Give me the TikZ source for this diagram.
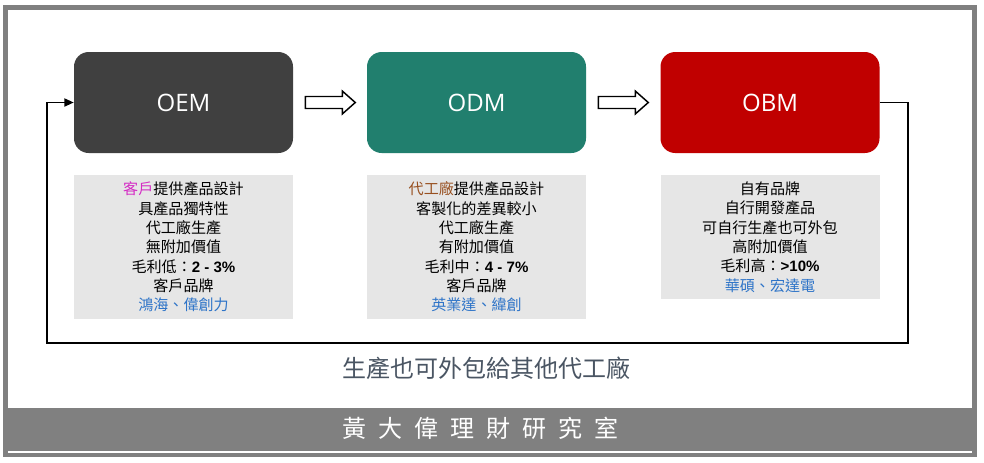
\documentclass[tikz,border=0pt]{standalone}
\usepackage{fontspec}
\setmainfont{Noto Sans CJK TC}
\newfontfamily\lat{Open Sans}
\newfontfamily\num{Liberation Sans}
\usetikzlibrary{calc,arrows.meta}
\definecolor{framegray}{HTML}{808080}
\definecolor{oemc}{HTML}{404040}
\definecolor{odmc}{HTML}{217F6E}
\definecolor{obmc}{HTML}{C00000}
\definecolor{boxgray}{HTML}{E6E6E6}
\definecolor{mag}{HTML}{D42BC4}
\definecolor{brn}{HTML}{985020}
\definecolor{blu}{HTML}{2E74C8}
\definecolor{capc}{HTML}{4A5563}
\tikzset{
  hbox/.style={rounded corners=11pt, minimum width=164.25pt, minimum height=75.75pt, text=white, font=\lat\fontsize{18}{22}\selectfont, inner sep=0pt},
  tbox/.style={fill=boxgray, minimum width=164.25pt, align=center, font=\fontsize{11.3}{14.5}\selectfont, inner sep=0pt},
  loopline/.style={line width=1.3pt, -{Triangle[length=7pt,width=6pt]}},
  blockarrow/.style={draw=black, fill=white, line width=1.1pt, line join=miter},
}
\begin{document}
\begin{tikzpicture}[x=0.75pt,y=-0.75pt]
\useasboundingbox (0,0) rectangle (984,462);
\fill[framegray] (3,5) rectangle (977,457);
\fill[white] (8,10) rectangle (972,408);
\draw[white, line width=0.8pt] (8,452) -- (972,452);

\node[hbox, fill=oemc] (oem) at (183.5,102.5) {OEM};
\node[hbox, fill=odmc] (odm) at (476.5,102.5) {ODM};
\node[hbox, fill=obmc] (obm) at (770,102.5) {OBM};

\node[tbox, minimum height=108pt] (t1) at (183.5,247) {{\color{mag}客戶}提供產品設計\\具產品獨特性\\代工廠生產\\無附加價值\\毛利低：{\num\bfseries 2 - 3\%}\\客戶品牌\\{\color{blu}鴻海、偉創力}};
\node[tbox, minimum height=108pt] (t2) at (476.5,247) {{\color{brn}代工廠}提供產品設計\\客製化的差異較小\\代工廠生產\\有附加價值\\毛利中：{\num\bfseries 4 - 7\%}\\客戶品牌\\{\color{blu}英業達、緯創}};
\node[tbox, minimum height=93pt] (t3) at (770,237) {自有品牌\\自行開發產品\\可自行生產也可外包\\高附加價值\\毛利高：{\num\bfseries >10\%}\\{\color{blu}華碩、宏達電}};

\draw[blockarrow] ($(oem.east)+(12,-6)$) -- ++(37,0) -- ++(0,-5.5) -- ++(13,11.5) -- ++(-13,11.5) -- ++(0,-5.5) -- ++(-37,0) -- cycle;
\draw[blockarrow] ($(odm.east)+(12,-6)$) -- ++(37,0) -- ++(0,-5.5) -- ++(13,11.5) -- ++(-13,11.5) -- ++(0,-5.5) -- ++(-37,0) -- cycle;

\coordinate (lr) at (908,343);
\coordinate (ll) at (47,343);
\draw[loopline] (obm.east) -| (lr) -- (ll) |- (oem.west);

\node[text=capc, font=\fontsize{18}{22}\selectfont, inner sep=0pt] (cap) at (486.5,368) {生產也可外包給其他代工廠};
\node[text=white, font=\fontsize{18}{22}\selectfont, inner sep=0pt] (title) at (480,428) {黃\hskip9pt大\hskip9pt偉\hskip9pt理\hskip9pt財\hskip9pt研\hskip9pt究\hskip9pt室};
\end{tikzpicture}
\end{document}
